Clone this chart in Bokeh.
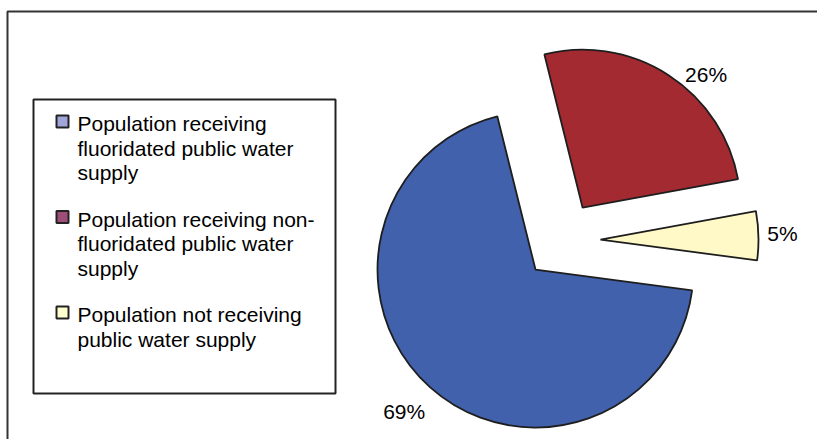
import math
from bokeh.plotting import figure
from bokeh.models import Range1d, ColumnDataSource
from bokeh.core.properties import value
from bokeh.embed import file_html
from bokeh.resources import INLINE

# ---------------- data ----------------
categories = [
    "Population receiving\nfluoridated public water\nsupply",
    "Population receiving non-\nfluoridated public water\nsupply",
    "Population not receiving\npublic water supply",
]
shares = [69, 26, 5]
pct_labels = ["69%", "26%", "5%"]

# ---------------- styles / layout ----------------
slice_colors = ["#4161AD", "#A42A32", "#FFF9C8"]
legend_colors = ["#A0A6DA", "#9E4C78", "#FFFFD0"]
FONT = value("Liberation Sans")
FS = "21px"
TEXT_SHIFT = -8   # svg baseline correction (screen px)

W, H = 817, 439
def Y(sy):  # screen y (down) -> data y (up)
    return H - sy

pie_cx, pie_cy = 561, 240
R = 158
explode = 39
rotation = 97.6          # degrees clockwise from 12 o'clock where 1st slice starts
label_dist = [194, 181, 182]
label_nudge = [0.8, 10.2, -0.2]

p = figure(width=W, height=H, x_range=Range1d(0, W), y_range=Range1d(0, H),
           output_backend="svg", toolbar_location=None,
           x_axis_type=None, y_axis_type=None, min_border=0,
           outline_line_color=None)
p.grid.visible = False
p.background_fill_color = "white"
p.border_fill_color = "white"

# outer chart frame (only top & left edges visible in the window)
p.line(x=[7, 7, W + 20], y=[Y(H + 20), Y(11), Y(11)], line_color="#333333", line_width=2)

# ---------------- pie ----------------
total = float(sum(shares))
xs, ys, a0, a1, lx, ly = [], [], [], [], [], []
theta = rotation
for i, v in enumerate(shares):
    sweep = 360.0 * v / total
    t0, t1 = theta, theta + sweep
    mid = (t0 + t1) / 2.0
    vx = pie_cx + explode * math.sin(math.radians(mid))
    vy = pie_cy - explode * math.cos(math.radians(mid))
    xs.append(vx); ys.append(Y(vy))
    a0.append(math.radians(90 - t0)); a1.append(math.radians(90 - t1))
    la = mid + label_nudge[i]
    cxl = vx + label_dist[i] * math.sin(math.radians(la))
    cyl = vy - label_dist[i] * math.cos(math.radians(la))
    lx.append(cxl); ly.append(Y(cyl + 7.5 + TEXT_SHIFT))
    theta = t1

src = ColumnDataSource(dict(x=xs, y=ys, start=a0, end=a1, color=slice_colors,
                            lx=lx, ly=ly, label=pct_labels))
p.wedge(x="x", y="y", radius=R, start_angle="start", end_angle="end",
        direction="clock", fill_color="color", line_color="#1E1E1E",
        line_width=1.8, source=src)
p.text(x="lx", y="ly", text="label", source=src, text_font=FONT,
       text_font_size=FS, text_align="center", text_baseline="alphabetic",
       text_color="black")

# ---------------- legend ----------------
p.quad(left=33, right=335, top=Y(99), bottom=Y(393), fill_color="white",
       line_color="#222222", line_width=2)

line_h = 24.5
gap = 22
base = 131
tx, ty, tt = [], [], []
sqx, sqy = [], []
for i, cat in enumerate(categories):
    lines = cat.split("\n")
    sqx.append(62); sqy.append(Y(base - 10))
    for j, ln in enumerate(lines):
        tx.append(77); ty.append(Y(base + j * line_h + TEXT_SHIFT)); tt.append(ln)
    base += len(lines) * line_h + gap

p.rect(x=sqx, y=sqy, width=12, height=12, fill_color=legend_colors,
       line_color="#222222", line_width=2)
p.text(x=tx, y=ty, text=tt, text_font=FONT, text_font_size=FS,
       text_align="left", text_baseline="alphabetic", text_color="black")

open("out.html", "w").write(file_html(p, INLINE))
